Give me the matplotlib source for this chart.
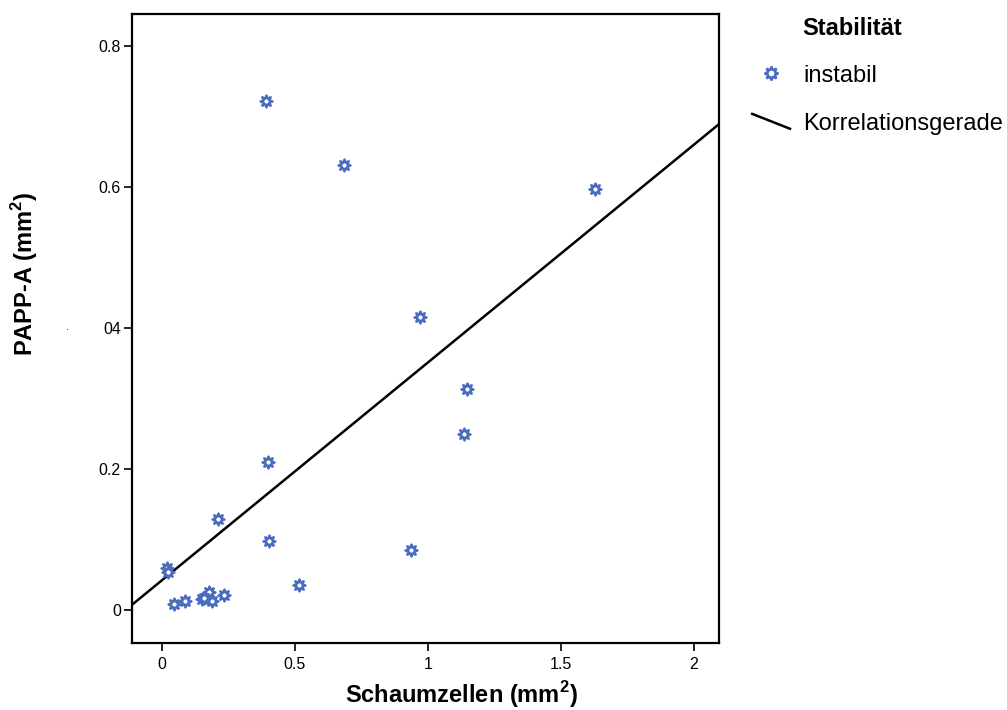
import numpy as np
import matplotlib
matplotlib.use('Agg')
from matplotlib import pyplot as plt
from matplotlib.lines import Line2D
from matplotlib.legend_handler import HandlerLine2D

plt.rcParams['font.family'] = ['Liberation Sans', 'DejaVu Sans']
plt.rcParams['mathtext.fontset'] = 'custom'
plt.rcParams['mathtext.rm'] = 'Liberation Sans'
plt.rcParams['mathtext.bf'] = 'Liberation Sans:bold'

# values
schaumzellen = [0.391, 0.684, 1.628, 0.970, 1.147, 1.135, 0.398, 0.211, 0.402, 0.936,
                0.515, 0.019, 0.023, 0.045, 0.086, 0.150, 0.177, 0.158, 0.188, 0.233]
papp_a = [0.722, 0.631, 0.597, 0.416, 0.313, 0.250, 0.210, 0.129, 0.098, 0.085,
          0.035, 0.060, 0.054, 0.008, 0.013, 0.015, 0.026, 0.017, 0.013, 0.021]
fit_slope = 0.309
fit_intercept = 0.042

x_ticks = [0, 0.5, 1, 1.5, 2]
x_ticklabels = ['0', '0.5', '1', '1.5', '2']
y_ticks = [0, 0.2, 0.4, 0.6, 0.8]
y_ticklabels = ['0', '0.2', '04', '0.6', '0.8']

blue = '#4a6cc0'
star = (8, 1, 0)


class DiagonalHandler(HandlerLine2D):
    def create_artists(self, legend, orig_handle, xdescent, ydescent,
                       width, height, fontsize, trans):
        line = Line2D([0, width], [height * 0.95, height * 0.05],
                      color=orig_handle.get_color(), lw=orig_handle.get_linewidth())
        line.set_transform(trans)
        return [line]


fig = plt.figure(figsize=(10.07, 7.10), dpi=100)
ax = fig.add_axes([0.131, 0.0944, 0.583, 0.8856])

xlim = (-0.113, 2.094)
xs = np.array(xlim)
fit_line, = ax.plot(xs, fit_intercept + fit_slope * xs, 'k-', lw=1.8)
pts = ax.scatter(schaumzellen, papp_a, marker=star, s=75, facecolors='white',
                 edgecolors=blue, linewidths=1.7, zorder=3)

ax.set_xlim(*xlim)
ax.set_ylim(-0.047, 0.845)
ax.set_xticks(x_ticks)
ax.set_xticklabels(x_ticklabels)
ax.set_yticks(y_ticks)
ax.set_yticklabels(y_ticklabels)
ax.tick_params(direction='out', length=6, width=1.2, labelsize=11.5, colors='black')
ax.tick_params(axis='x', pad=4)
ax.tick_params(axis='y', pad=2)
for sp in ax.spines.values():
    sp.set_linewidth(1.6)

ax.set_xlabel('Schaumzellen (mm$^{\\mathbf{2}}$)', fontsize=17, fontweight='bold')
ax.xaxis.set_label_coords(0.562, -0.058)
ax.set_ylabel('PAPP-A (mm$^{\\mathbf{2}}$)', fontsize=17, fontweight='bold')
ax.yaxis.set_label_coords(-0.157, 0.588)

fig.text(0.066, 0.535, '.', fontsize=8)

# legend: title placed as text so it lines up with the entry labels
fig.text(0.797, 0.96, 'Stabilität', fontsize=17, fontweight='bold', va='center', ha='left')
fig.legend([Line2D([], [], marker=star, ls='none', markersize=10,
                   markerfacecolor='white', markeredgecolor=blue, markeredgewidth=1.7),
            fit_line],
           ['instabil', 'Korrelationsgerade'],
           loc='upper left', bbox_to_anchor=(0.747, 0.909),
           frameon=False, fontsize=17, handlelength=1.6, handletextpad=0.55,
           labelspacing=1.1, borderpad=0, borderaxespad=0,
           handler_map={fit_line: DiagonalHandler()})

fig.savefig('out.png', dpi=100)
